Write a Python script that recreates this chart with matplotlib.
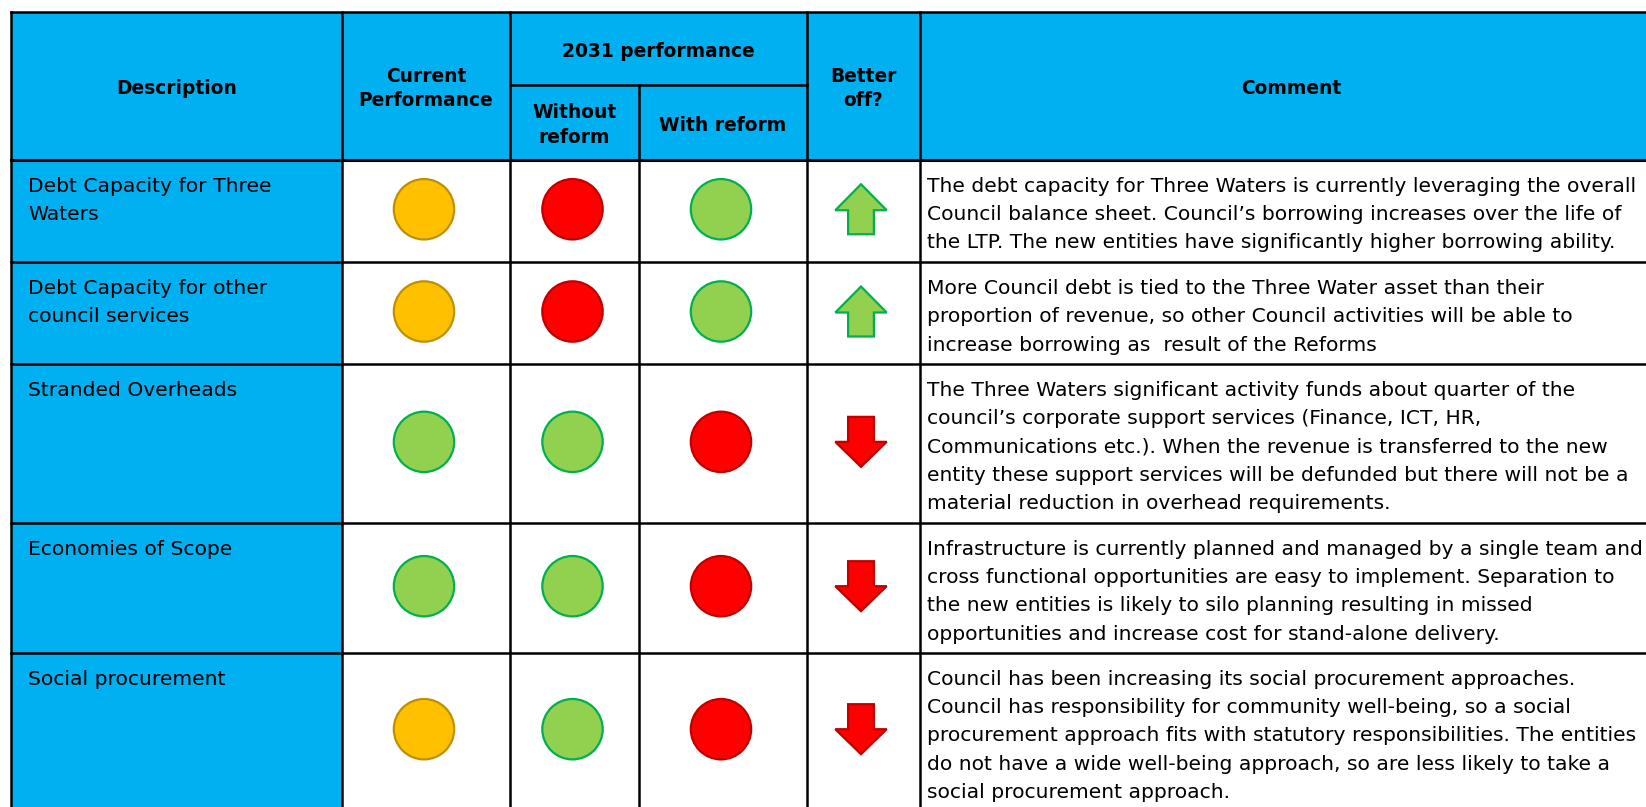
import matplotlib
matplotlib.use("Agg")
import matplotlib.pyplot as plt
from matplotlib.patches import Rectangle, Circle, Polygon

# ---- table content ----
header_top = ["Description", "Current\nPerformance", "2031 performance", "Better\noff?", "Comment"]
header_sub = ["Without\nreform", "With reform"]

descriptions = [
    ["Debt Capacity for Three", "Waters"],
    ["Debt Capacity for other", "council services"],
    ["Stranded Overheads"],
    ["Economies of Scope"],
    ["Social procurement"],
]
current = ["amber", "amber", "green", "green", "amber"]
without_reform = ["red", "red", "green", "green", "green"]
with_reform = ["green", "green", "red", "red", "red"]
better_off = ["up", "up", "down", "down", "down"]
comments = [
    ["The debt capacity for Three Waters is currently leveraging the overall",
     "Council balance sheet. Council\u2019s borrowing increases over the life of",
     "the LTP. The new entities have significantly higher borrowing ability."],
    ["More Council debt is tied to the Three Water asset than their",
     "proportion of revenue, so other Council activities will be able to",
     "increase borrowing as  result of the Reforms"],
    ["The Three Waters significant activity funds about quarter of the",
     "council\u2019s corporate support services (Finance, ICT, HR,",
     "Communications etc.). When the revenue is transferred to the new",
     "entity these support services will be defunded but there will not be a",
     "material reduction in overhead requirements."],
    ["Infrastructure is currently planned and managed by a single team and",
     "cross functional opportunities are easy to implement. Separation to",
     "the new entities is likely to silo planning resulting in missed",
     "opportunities and increase cost for stand-alone delivery."],
    ["Council has been increasing its social procurement approaches.",
     "Council has responsibility for community well-being, so a social",
     "procurement approach fits with statutory responsibilities. The entities",
     "do not have a wide well-being approach, so are less likely to take a",
     "social procurement approach."],
]

fills = {"amber": "#FFC000", "red": "#FF0000", "green": "#92D050"}
edges = {"amber": "#BF9000", "red": "#C00000", "green": "#00B050"}
blue = "#00B0F0"

# ---- layout (pixels) ----
W, H = 1646, 807
cols = [11.5, 342, 510, 639, 807, 920, 1662]
top, mid, hdr_bot = 11.7, 85.3, 159.5
row_edges = [159.5, 262, 364, 522.7, 652.7, 808.7]
lw = 1.8  # points

fig = plt.figure(figsize=(W / 100, H / 100), dpi=100)
ax = fig.add_axes([0, 0, 1, 1])
ax.set_xlim(0, W)
ax.set_ylim(H, 0)
ax.axis("off")

# backgrounds
ax.add_patch(Rectangle((cols[0], top), cols[-1] - cols[0], hdr_bot - top, color=blue, lw=0))
ax.add_patch(Rectangle((cols[0], hdr_bot), cols[1] - cols[0], row_edges[-1] - hdr_bot, color=blue, lw=0))

# grid lines
def hline(y, x0, x1, w=lw):
    ax.plot([x0, x1], [y, y], color="black", lw=w, solid_capstyle="projecting")

def vline(x, y0, y1, w=lw):
    ax.plot([x, x], [y0, y1], color="black", lw=w, solid_capstyle="projecting")

hline(top, cols[0], cols[-1])
hline(mid, cols[2], cols[4])
hline(hdr_bot, cols[0], cols[-1], 2.2)
for y in row_edges[1:]:
    hline(y, cols[0], cols[-1])
for i in [0, 1, 2, 4, 5]:
    vline(cols[i], top, row_edges[-1])
vline(cols[3], mid, row_edges[-1])

# header text
hdr_font = dict(fontsize=13.4, fontweight="bold", family="DejaVu Sans", ha="center", va="baseline")

def hdr_text(x, y0, y1, s):
    lines = s.split("\n")
    c = (y0 + y1) / 2 + 8.4
    for i, ln in enumerate(lines):
        ax.text(x, c + (i - (len(lines) - 1) / 2) * 25, ln, **hdr_font)

hdr_text((cols[0] + cols[1]) / 2, top, hdr_bot, header_top[0])
hdr_text((cols[1] + cols[2]) / 2, top, hdr_bot, header_top[1])
hdr_text((cols[2] + cols[4]) / 2, top, mid, header_top[2])
hdr_text((cols[4] + cols[5]) / 2, top, hdr_bot, header_top[3])
hdr_text((cols[5] + cols[6]) / 2, top, hdr_bot, header_top[4])
hdr_text((cols[2] + cols[3]) / 2, mid, hdr_bot, header_sub[0])
hdr_text((cols[3] + cols[4]) / 2, mid, hdr_bot, header_sub[1])

# body
body_font = dict(fontsize=14.6, family="DejaVu Sans", ha="left", va="baseline", color="black")
line_gap = 28.3
first_base = 32

def arrow(cx, cy, direction):
    sw, hw, h = 12.9, 25.7, 25
    if direction == "up":
        pts = [(cx, cy - h), (cx + hw, cy + 1), (cx + sw, cy + 1), (cx + sw, cy + h),
               (cx - sw, cy + h), (cx - sw, cy + 1), (cx - hw, cy + 1)]
        fc, ec = fills["green"], edges["green"]
    else:
        pts = [(cx, cy + h), (cx + hw, cy), (cx + sw, cy), (cx + sw, cy - h),
               (cx - sw, cy - h), (cx - sw, cy), (cx - hw, cy)]
        fc, ec = fills["red"], edges["red"]
    ax.add_patch(Polygon(pts, closed=True, fc=fc, ec=ec, lw=1.6, joinstyle="miter"))

for r in range(len(descriptions)):
    y0, y1 = row_edges[r], row_edges[r + 1]
    cy = (y0 + y1) / 2 - 1.5
    for i, ln in enumerate(descriptions[r]):
        ax.text(28.5, y0 + first_base + i * line_gap, ln, **body_font)
    for j, status in enumerate([current[r], without_reform[r], with_reform[r]]):
        cx = (cols[j + 1] + cols[j + 2]) / 2 - 2
        ax.add_patch(Circle((cx, cy), 30.2, fc=fills[status], ec=edges[status], lw=1.6))
    arrow((cols[4] + cols[5]) / 2 - 2.5, cy, better_off[r])
    for i, ln in enumerate(comments[r]):
        ax.text(927, y0 + first_base + i * line_gap, ln, **body_font)

fig.savefig("out.png", dpi=100)
